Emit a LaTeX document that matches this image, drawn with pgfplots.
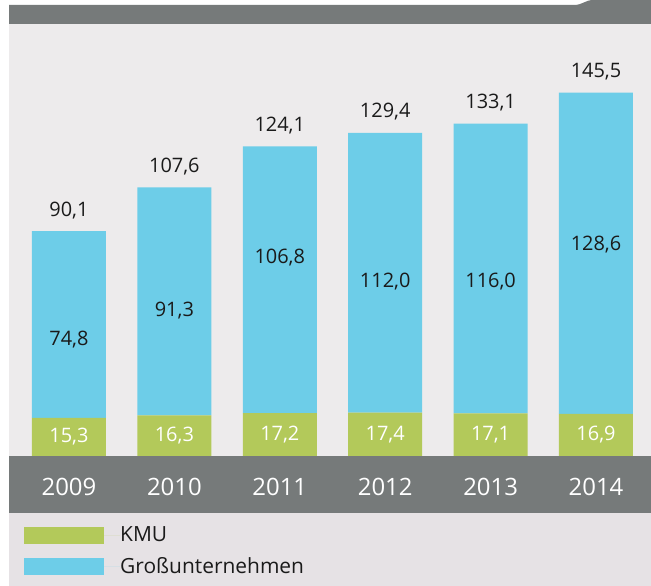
\documentclass[border=0pt]{standalone}
\usepackage{pgfplots}
\pgfplotsset{compat=1.18}
\usepackage{fontspec}
\setmainfont{Open Sans}
\definecolor{cBlue}{HTML}{6DCDE8}
\definecolor{cGreen}{HTML}{B3C95A}
\definecolor{cBand}{HTML}{767A7A}
\definecolor{cPanel}{HTML}{EDEBEC}
\definecolor{cLegend}{HTML}{E6E2E5}
\definecolor{cText}{HTML}{1A1A1A}
\newcommand{\lab}{\fontsize{20}{22}\selectfont}
\newcommand{\leg}{\fontsize{21}{23}\selectfont}
\newcommand{\yr}{\fontsize{24}{26}\selectfont}
\begin{document}
\begin{tikzpicture}[x=1bp,y=1bp]
\fill[white] (0,0) rectangle (651,586);
\fill[cLegend] (9,0) rectangle (651,73);
\fill[cBand] (9,73) rectangle (651,130);
\fill[cPanel] (9,130) rectangle (651,562);
\fill[cBand] (9,562) -- (9,581) -- (573,581) .. controls (584,581) and (584,586) .. (594,586) -- (651,586) -- (651,562) -- cycle;
\begin{axis}[
  at={(9bp,130bp)}, anchor=south west, scale only axis,
  width=642bp, height=432bp,
  xmin=-0.569, xmax=5.522, ymin=0, ymax=173,
  ybar stacked, bar width=74bp,
  axis line style={draw=none},
  ytick=\empty,
  xtick={0,1,2,3,4,5},
  xticklabels={2009,2010,2011,2012,2013,2014},
  major tick length=0pt,
  xticklabel style={text=white, font=\yr, anchor=center, yshift=-31bp},
  clip=false,
  legend style={at={(axis description cs:0.0234,-0.163)}, anchor=north west,
    draw=none, fill=none, inner sep=0pt, row sep=14bp,
    nodes={inner sep=0pt, text=cText, font=\leg}},
  legend cell align=left,
  legend image code/.code={\fill[#1] (0bp,-8.5bp) rectangle (80bp,8.5bp); \path (0bp,0bp) -- (96bp,0bp);},
]
\addplot[fill=cGreen, draw=none] coordinates {(0,15.3) (1,16.3) (2,17.2) (3,17.4) (4,17.1) (5,16.9)};
\addlegendentry{\leg KMU}
\addplot[fill=cBlue, draw=none] coordinates {(0,74.8) (1,91.3) (2,106.8) (3,112.0) (4,116.0) (5,128.6)};
\addlegendentry{\leg Großunternehmen}
% anchor points for segment labels
\coordinate (g0) at (axis cs:0,7.65);
\coordinate (g1) at (axis cs:1,8.15);
\coordinate (g2) at (axis cs:2,8.6);
\coordinate (g3) at (axis cs:3,8.7);
\coordinate (g4) at (axis cs:4,8.55);
\coordinate (g5) at (axis cs:5,8.45);
\coordinate (b0) at (axis cs:0,46.6);
\coordinate (b1) at (axis cs:1,58.1);
\coordinate (b2) at (axis cs:2,79.3);
\coordinate (b3) at (axis cs:3,69.7);
\coordinate (b4) at (axis cs:4,69.7);
\coordinate (b5) at (axis cs:5,84.5);
% totals
\node[font=\lab, text=cText, anchor=base, yshift=15bp] at (axis cs:0,90.1) {90,1};
\node[font=\lab, text=cText, anchor=base, yshift=15bp] at (axis cs:1,107.6) {107,6};
\node[font=\lab, text=cText, anchor=base, yshift=15bp] at (axis cs:2,124.0) {124,1};
\node[font=\lab, text=cText, anchor=base, yshift=15bp] at (axis cs:3,129.4) {129,4};
\node[font=\lab, text=cText, anchor=base, yshift=15bp] at (axis cs:4,133.1) {133,1};
\node[font=\lab, text=cText, anchor=base, yshift=15bp] at (axis cs:5,145.5) {145,5};
\end{axis}
\begin{scope}[every node/.style={font=\lab}]
\node[text=white] at (g0) {15,3};
\node[text=white] at (g1) {16,3};
\node[text=white] at (g2) {17,2};
\node[text=white] at (g3) {17,4};
\node[text=white] at (g4) {17,1};
\node[text=white] at (g5) {16,9};
\node[text=cText] at (b0) {74,8};
\node[text=cText] at (b1) {91,3};
\node[text=cText] at (b2) {106,8};
\node[text=cText] at (b3) {112,0};
\node[text=cText] at (b4) {116,0};
\node[text=cText] at (b5) {128,6};
\end{scope}
\pgfresetboundingbox
\path[use as bounding box] (0,0) rectangle (651,586);
\end{tikzpicture}
\end{document}
